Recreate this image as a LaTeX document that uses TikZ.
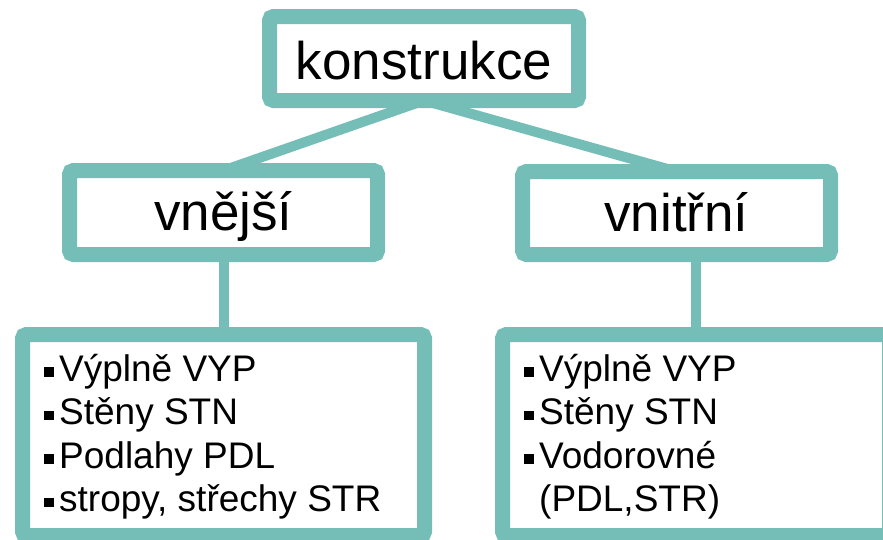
\documentclass[tikz,border=0pt]{standalone}
\usepackage{fontspec}
\setmainfont{Liberation Sans}
\usetikzlibrary{backgrounds}
\definecolor{teal1}{HTML}{75BDB7}
\newcommand\sqbul{\rule[4.5pt]{9.5pt}{9.5pt}\hspace{5.5pt}}
\begin{document}
\begin{tikzpicture}[x=1pt,y=-1pt,
  box/.style={draw=teal1, line width=15pt, fill=white, rounded corners=4pt, inner sep=0pt, outer sep=0pt},
  link/.style={draw=teal1, line width=10pt},
  big/.style={font=\fontsize{53}{63}\selectfont, text depth=0pt},
  item/.style={font=\fontsize{37}{44}\selectfont, anchor=base west, inner sep=0pt}]
\useasboundingbox (0,0) rectangle (883,539);
\clip (0,0) rectangle (883,539);
\node[box, big, minimum width=309pt, minimum height=84pt, text height=41pt] (top) at (424,58.5) {konstrukce};
\node[box, big, minimum width=308pt, minimum height=84pt, text height=35pt] (ext) at (223.5,212.5) {vnější};
\node[box, big, minimum width=308pt, minimum height=83pt, text height=36pt] (int) at (676.5,213) {vnitřní};
\node[box, minimum width=402pt, minimum height=201pt] (extl) at (223.5,435) {};
\node[box, minimum width=387pt, minimum height=201pt] (intl) at (696,435) {};
\begin{scope}[on background layer]
  \draw[link] (top.south) -- (ext.north);
  \draw[link] (top.south) -- (int.north);
  \draw[link] (ext.south) -- (extl.north);
  \draw[link] (int.south -| intl.north) -- (intl.north);
\end{scope}
\node[item] (l1) at (44,381) {\sqbul Výplně VYP};
\node[item] (l2) at (44,424.5) {\sqbul Stěny STN};
\node[item] (l3) at (44,468) {\sqbul Podlahy PDL};
\node[item] (l4) at (44,511.5) {\sqbul stropy, střechy STR};
\node[item] (r1) at (524,381) {\sqbul Výplně VYP};
\node[item] (r2) at (524,424.5) {\sqbul Stěny STN};
\node[item] (r3) at (524,468) {\sqbul Vodorovné};
\node[item] (r4) at (539,511.5) {(PDL,STR)};
\end{tikzpicture}
\end{document}
